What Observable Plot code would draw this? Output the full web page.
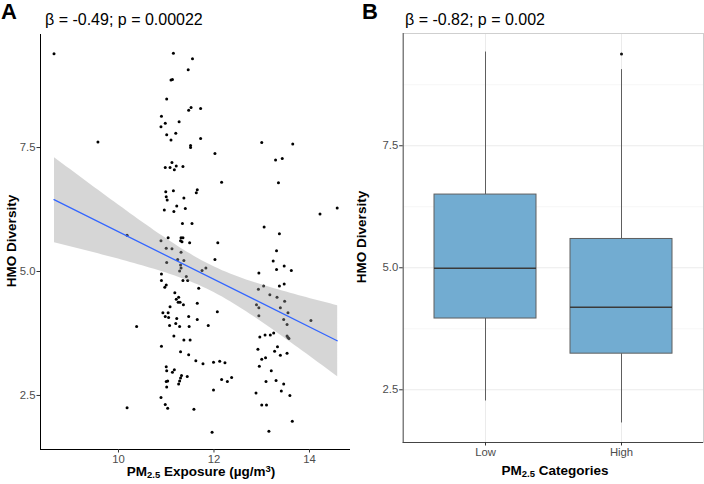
<!DOCTYPE html>
<html><head><meta charset="utf-8">
<script src="https://cdn.jsdelivr.net/npm/d3@7"></script>
<script src="https://cdn.jsdelivr.net/npm/@observablehq/plot@0.6"></script>
<style>
body{margin:0;background:#fff;}
#wrap{position:relative;width:704px;height:484px;font-family:"Liberation Sans",Arial,Helvetica,sans-serif;overflow:hidden;background:#fff}
#pA,#pB{position:absolute;top:0}
#pA{left:0} #pB{left:352px}
.t{position:absolute;white-space:nowrap;color:#000;line-height:1}
.tag{font-weight:bold;font-size:22px}
.sub{font-size:16px}
.ttl{font-weight:bold;font-size:13.5px}
.ttl sub{font-size:70%;vertical-align:-0.25em;line-height:0}
.ttl sup{font-size:70%;vertical-align:0.45em;line-height:0}
.yl{transform:translate(-50%,-50%) rotate(-90deg)}
.xl{transform:translateX(-50%)}
</style>
</head>
<body>
<div id="wrap">
  <div id="pA"></div>
  <div id="pB"></div>
  <div class="t tag" style="left:1px;top:1.4px">A</div>
  <div class="t tag" style="left:362px;top:1.4px">B</div>
  <div class="t sub" style="left:45px;top:11.5px">β = -0.49; p = 0.00022</div>
  <div class="t sub" style="left:405px;top:11.5px">β = -0.82; p = 0.002</div>
  <div class="t ttl xl" style="left:201px;top:465px">PM<sub>2.5</sub> Exposure (µg/m<sup>3</sup>)</div>
  <div class="t ttl xl" style="left:555px;top:464px">PM<sub>2.5</sub> Categories</div>
  <div class="t ttl yl" style="left:12px;top:241px">HMO Diversity</div>
  <div class="t ttl yl" style="left:362px;top:237px">HMO Diversity</div>
</div>
<script>
// Panel A: PM2.5 exposure (µg/m3) vs HMO diversity
const pmX = [8.65,9.57,10.18,10.38,10.18,
11.15,11.55,11.46,11.10,11.13,11.01,11.52,11.47,11.72,10.90,10.98,10.89,11.27,11.01,11.20,11.10,11.72,11.51,11.51,12.02,11.12,10.98,11.08,11.17,11.21,11.35,12.16,10.99,11.15,11.65,11.63,11.00,11.02,11.37,11.22,10.96,11.16,11.40,11.34,11.54,
11.04,11.31,11.35,11.30,11.33,10.89,11.49,12.08,11.00,11.12,11.31,11.24,11.37,12.02,11.01,11.30,11.31,11.28,11.83,11.75,10.90,11.42,11.45,10.90,11.35,11.00,10.97,11.68,11.18,11.26,11.21,11.29,11.25,11.36,11.65,11.08,12.07,10.93,11.04,10.98,11.05,11.47,11.22,11.65,11.20,11.07,11.28,11.48,11.88,11.16,11.37,11.50,10.90,11.30,11.47,11.62,11.77,11.99,12.12,12.23,11.00,11.01,11.17,11.13,11.32,11.30,11.28,11.26,11.44,11.00,11.03,11.01,12.16,12.28,12.37,11.99,10.89,10.98,11.03,11.58,11.96,
13.00,13.65,13.29,13.43,13.35,14.22,14.58,13.05,13.37,
13.31,13.24,13.47,13.31,13.62,12.94,13.37,13.47,13.04,12.93,13.17,13.32,13.48,12.89,12.94,13.39,13.55,12.94,13.46,14.03,13.53,13.53,13.55,13.57,12.96,13.07,13.18,13.25,13.33,13.27,12.92,13.53,13.39,13.08,13.00,12.95,13.20,13.30,13.09,13.46,13.41,12.88,13.59,13.00,13.10,13.64,13.15];
const hmoY = [9.39,7.61,5.73,3.89,2.25,
9.40,9.29,9.07,8.86,8.87,8.48,8.31,8.25,8.29,8.13,7.99,7.92,8.02,7.76,7.79,7.65,7.68,7.54,7.50,7.38,7.20,7.10,7.10,7.05,7.13,7.12,6.80,6.61,6.63,6.65,6.59,6.51,6.44,6.48,6.32,6.24,6.21,6.27,5.97,5.97,
5.68,5.68,5.68,5.62,5.60,5.62,5.58,5.58,5.47,5.46,5.39,5.24,5.22,5.24,5.18,5.13,5.07,5.01,5.07,5.02,4.95,4.90,4.82,4.82,4.82,4.73,4.68,4.66,4.57,4.48,4.44,4.38,4.38,4.33,4.36,4.29,4.19,4.17,4.17,4.09,4.07,4.09,4.05,4.03,3.95,3.91,3.89,3.89,3.91,3.70,3.62,3.62,3.49,3.38,3.32,3.20,3.14,3.17,3.19,3.16,3.08,3.00,3.02,2.97,2.90,2.85,2.79,2.73,2.88,2.78,2.79,2.67,2.82,2.78,2.86,2.61,2.46,2.32,2.24,2.22,1.76,
7.60,7.57,7.25,7.28,6.79,6.16,6.28,5.90,5.76,
5.42,5.21,5.11,5.04,5.02,4.97,4.71,4.75,4.71,4.64,4.53,4.48,4.40,4.33,4.27,4.27,4.17,4.11,4.03,4.01,3.93,3.70,3.67,3.65,3.68,3.72,3.72,3.76,3.48,3.39,3.43,3.35,3.31,3.26,3.23,3.09,3.00,2.80,2.78,2.73,2.59,2.55,2.50,2.31,2.31,1.98,1.78];
const xTicksA = [10, 12, 14];
const yTicks = [2.5, 5.0, 7.5];
const yMinor = [3.75, 6.25, 8.75];

// Panel B: box statistics by PM2.5 category
const categories = ["Low", "High"];
const whiskerLow = [2.27, 1.82];
const q1 = [3.96, 3.24];
const median = [4.99, 4.19];
const q3 = [6.50, 5.59];
const whiskerHigh = [9.42, 9.06];
const outlierCat = ["High"];
const outlierVal = [9.38];

const font = '"Liberation Sans", Arial, Helvetica, sans-serif';
const ptsA = pmX.map((x, i) => ({x, y: hmoY[i]}));
const yDomain = [1.41, 9.78];

const plotA = Plot.plot({
  width: 352, height: 484,
  marginLeft: 40, marginRight: 2, marginTop: 34, marginBottom: 35,
  style: {fontFamily: font, fontSize: "11.3px", background: "transparent", color: "#4d4d4d"},
  x: {domain: [8.367, 14.859]},
  y: {domain: yDomain},
  marks: [
    Plot.dot(ptsA, {x: "x", y: "y", r: 1.5, fill: "black", stroke: "none"}),
    Plot.linearRegressionY(ptsA, {x: "x", y: "y", ci: 0.95, stroke: "#3366FF", strokeWidth: 1.3, fill: "#999999", fillOpacity: 0.4}),
    Plot.ruleX([8.367], {stroke: "#000", strokeWidth: 1}),
    Plot.ruleY([yDomain[0]], {stroke: "#000", strokeWidth: 1}),
    Plot.axisY(yTicks, {tickFormat: d3.format(".1f"), tickSize: 3.5, tickPadding: 1.5, stroke: "#333", fill: "#4d4d4d", label: null}),
    Plot.axisX(xTicksA, {tickFormat: d3.format("d"), tickSize: 3.5, tickPadding: 1.5, stroke: "#333", fill: "#4d4d4d", label: null})
  ]
});
document.getElementById("pA").appendChild(plotA);

const boxes = categories.map((c, i) => ({cat: c, lo: whiskerLow[i], q1: q1[i], med: median[i], q3: q3[i], hi: whiskerHigh[i]}));
const outliers = outlierCat.map((c, i) => ({cat: c, v: outlierVal[i]}));

const plotB = Plot.plot({
  width: 352, height: 484,
  marginLeft: 50.7, marginRight: 1, marginTop: 33, marginBottom: 42,
  style: {fontFamily: font, fontSize: "11.3px", background: "transparent", color: "#4d4d4d"},
  x: {type: "band", domain: categories, paddingInner: 0.25, paddingOuter: 0.223},
  y: {domain: [1.42, 9.80]},
  marks: [
    Plot.ruleY(yMinor, {stroke: "#f0f0f0", strokeWidth: 0.6}),
    Plot.ruleY(yTicks, {stroke: "#ebebeb", strokeWidth: 1}),
    Plot.ruleX(categories, {stroke: "#ebebeb", strokeWidth: 1}),
    Plot.frame({stroke: "#cfcfcf", strokeWidth: 1}),
    Plot.frame({anchor: "left", stroke: "#555", strokeWidth: 1}),
    Plot.ruleX(boxes, {x: "cat", y1: "lo", y2: "q1", stroke: "#5e5e5e", strokeWidth: 1}),
    Plot.ruleX(boxes, {x: "cat", y1: "q3", y2: "hi", stroke: "#5e5e5e", strokeWidth: 1}),
    Plot.barY(boxes, {x: "cat", y1: "q1", y2: "q3", fill: "#72acd1", stroke: "#5f5f5f", strokeWidth: 1}),
    Plot.tickY(boxes, {x: "cat", y: "med", stroke: "#3a3a3a", strokeWidth: 1.6}),
    Plot.dot(outliers, {x: "cat", y: "v", r: 1.5, fill: "#111", stroke: "none"}),
    Plot.ruleY([1.42], {stroke: "#444", strokeWidth: 1}),
    Plot.axisY(yTicks, {tickFormat: d3.format(".1f"), tickSize: 3.5, tickPadding: 1.5, stroke: "#333", fill: "#4d4d4d", label: null}),
    Plot.axisX(categories, {tickSize: 3.5, tickPadding: 1.5, stroke: "#333", fill: "#4d4d4d", label: null})
  ]
});
document.getElementById("pB").appendChild(plotB);
</script>
</body></html>
